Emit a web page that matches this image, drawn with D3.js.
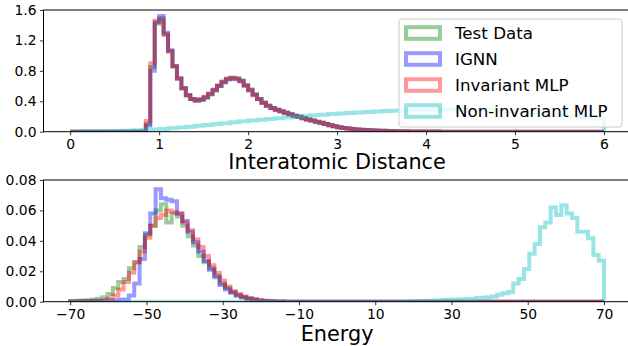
<!DOCTYPE html>
<html>
<head>
<meta charset="utf-8">
<script src="https://cdn.jsdelivr.net/npm/d3@7"></script>
<style>
  body { margin: 0; background: #fff; }
  svg text { font-family: "DejaVu Sans", sans-serif; fill: #000; }
</style>
</head>
<body>
<div id="app"></div>
<script>
// series names + colours (matplotlib g, b, r, c drawn at alpha 0.4)
const seriesNames = ['Test Data', 'IGNN', 'Invariant MLP', 'Non-invariant MLP'];
const seriesColors = ['#008000', '#0000ff', '#ff0000', '#00bfbf'];

// --- interatomic distance histograms (density) ---
// bins of 0.05 from 0 to 6; the first three start at 0.80
const distStart = 0.8;
const distWidth = 0.05;
const distTest = [0.0, 0.10, 0.85, 1.42, 1.49, 1.28, 1.06, 0.86, 0.70, 0.57, 0.48, 0.43, 0.41, 0.42,
  0.45, 0.49, 0.54, 0.60, 0.65, 0.69, 0.71, 0.70, 0.67, 0.61, 0.55, 0.49, 0.43, 0.38, 0.34, 0.31,
  0.29, 0.27, 0.25, 0.23, 0.21, 0.195, 0.178, 0.16, 0.147, 0.132, 0.117, 0.10, 0.085, 0.072, 0.06,
  0.05, 0.042, 0.035, 0.03, 0.025, 0.021, 0.018, 0.015, 0.013, 0.011, 0.009, 0.008, 0.007, 0.006,
  0.005, 0.004, 0.003, 0.003, 0.002, 0.002, 0.001, 0.001];
const distIGNN = [0.0, 0.08, 0.80, 1.44, 1.52, 1.30, 1.07, 0.86, 0.70, 0.57, 0.48, 0.43, 0.41, 0.42,
  0.45, 0.50, 0.55, 0.60, 0.65, 0.69, 0.70, 0.69, 0.67, 0.61, 0.55, 0.49, 0.43, 0.38, 0.34, 0.31,
  0.29, 0.27, 0.25, 0.23, 0.21, 0.195, 0.178, 0.16, 0.147, 0.132, 0.117, 0.10, 0.085, 0.072, 0.06,
  0.05, 0.042, 0.035, 0.03, 0.025, 0.021, 0.018, 0.015, 0.013, 0.011, 0.009, 0.008, 0.007, 0.006,
  0.005, 0.004, 0.003, 0.003, 0.002, 0.002, 0.001, 0.001];
const distInvMLP = [0.0, 0.14, 0.90, 1.46, 1.47, 1.27, 1.05, 0.86, 0.70, 0.57, 0.48, 0.43, 0.41, 0.43,
  0.46, 0.50, 0.55, 0.61, 0.66, 0.70, 0.71, 0.70, 0.66, 0.60, 0.54, 0.48, 0.43, 0.38, 0.34, 0.31,
  0.29, 0.27, 0.25, 0.23, 0.21, 0.195, 0.178, 0.16, 0.147, 0.132, 0.117, 0.10, 0.085, 0.072, 0.06,
  0.05, 0.042, 0.035, 0.03, 0.025, 0.021, 0.018, 0.015, 0.013, 0.011, 0.009, 0.008, 0.007, 0.006,
  0.005, 0.004, 0.003, 0.003, 0.002, 0.002, 0.001, 0.001];
// non-invariant MLP: bins of 0.1 from 0
const distNonInvStart = 0;
const distNonInvWidth = 0.1;
const distNonInv = [0.0, 0.001, 0.002, 0.004, 0.006, 0.009, 0.013, 0.018, 0.024, 0.03, 0.037, 0.045,
  0.055, 0.066, 0.077, 0.088, 0.1, 0.112, 0.124, 0.136, 0.148, 0.158, 0.168, 0.178, 0.188, 0.198,
  0.207, 0.216, 0.224, 0.232, 0.24, 0.247, 0.254, 0.26, 0.266, 0.271, 0.276, 0.28, 0.283, 0.286,
  0.288, 0.29, 0.291, 0.291, 0.29, 0.288, 0.285, 0.281, 0.276, 0.27, 0.263, 0.255, 0.246, 0.236,
  0.225, 0.214, 0.203, 0.192, 0.182, 0.175];
const distRange = [0, 6];
const distTicks = [0, 1, 2, 3, 4, 5, 6];
const distYTicks = [0, 0.4, 0.8, 1.2, 1.6];

// --- energy histograms (density), bins of 1.4 from -70 to 70 ---
const energyWidth = 1.4;
const energyStart = -70;
const energyTest = [0.0005, 0.0006, 0.0008, 0.001, 0.0013, 0.002, 0.003, 0.005, 0.009, 0.013, 0.015,
  0.022, 0.026, 0.036, 0.044, 0.05, 0.06, 0.064, 0.052, 0.058, 0.056, 0.05, 0.043, 0.037, 0.03,
  0.026, 0.022, 0.017, 0.012, 0.009, 0.006, 0.004, 0.003, 0.002, 0.0012, 0.0008, 0.0005, 0.0003,
  0.0002, 0.0001];
const energyIGNN = [0.0002, 0.0002, 0.0003, 0.0003, 0.0004, 0.0005, 0.0006, 0.0008, 0.001, 0.0012,
  0.0015, 0.004, 0.012, 0.028, 0.045, 0.058, 0.074, 0.068, 0.067, 0.066, 0.058, 0.053, 0.046, 0.039,
  0.033, 0.027, 0.021, 0.016, 0.011, 0.008, 0.006, 0.004, 0.003, 0.002, 0.0013, 0.0008, 0.0005,
  0.0003, 0.0002, 0.0001];
const energyInvMLP = [0.0002, 0.0003, 0.0004, 0.0005, 0.0006, 0.0008, 0.001, 0.002, 0.004, 0.008,
  0.013, 0.019, 0.026, 0.033, 0.042, 0.05, 0.055, 0.057, 0.06, 0.059, 0.058, 0.052, 0.047, 0.041,
  0.036, 0.03, 0.024, 0.019, 0.014, 0.01, 0.007, 0.005, 0.0035, 0.0025, 0.0017, 0.001, 0.0007,
  0.0004, 0.0002, 0.0001];
const energyNonInvStart = 19.6;
const energyNonInv = [0.0003, 0.0004, 0.0005, 0.0006, 0.0008, 0.001, 0.0012, 0.0014, 0.0015, 0.0016,
  0.0018, 0.002, 0.0024, 0.0026, 0.003, 0.0035, 0.0046, 0.0055, 0.0064, 0.012, 0.015, 0.0215,
  0.0316, 0.038, 0.049, 0.052, 0.062, 0.057, 0.0634, 0.058, 0.055, 0.046, 0.046, 0.0417, 0.0307,
  0.027];
const energyRange = [-70, 70];
const energyTicks = [-70, -50, -30, -10, 10, 30, 50, 70];
const energyYTicks = [0, 0.02, 0.04, 0.06, 0.08];

// turn a run of bin values into a full step outline over [lo, hi]
function stepPoints(start, width, vals, lo, hi) {
  let pts = [[lo, 0], [start, 0]];
  vals.forEach((v, i) => {
    pts.push([start + i * width, v]);
    pts.push([start + (i + 1) * width, v]);
  });
  let end = start + vals.length * width;
  pts.push([end, 0]);
  if (end < hi - 1e-9) pts.push([hi, 0]);
  return pts;
}

const W = 628, H = 346;
const svg = d3.select('#app').append('svg')
  .attr('width', W).attr('height', H)
  .style('background', '#fff');

function panel(opts) {
  const x = d3.scaleLinear().domain(opts.xDomain).range([43.5, 630.7]);
  const y = d3.scaleLinear().domain(opts.yDomain).range([opts.bottom, opts.top]);

  const g = svg.append('g');

  const clipId = 'clip' + opts.top;
  svg.append('clipPath').attr('id', clipId)
    .append('rect')
    .attr('x', 43.5).attr('y', opts.top)
    .attr('width', 630.7 - 43.5).attr('height', opts.bottom - opts.top);

  const ln = d3.line()
    .x(d => x(d[0]))
    .y(d => y(d[1]));

  const plot = g.append('g').attr('clip-path', 'url(#' + clipId + ')');
  opts.series.forEach((s, i) => {
    plot.append('path')
      .attr('d', ln(s))
      .attr('fill', 'none')
      .attr('stroke', seriesColors[i])
      .attr('stroke-opacity', 0.4)
      .attr('stroke-width', 4)
      .attr('stroke-linejoin', 'miter');
  });

  const xAxis = d3.axisBottom(x)
    .tickValues(opts.xTicks)
    .tickSize(3.5).tickPadding(3.5)
    .tickFormat(opts.xFormat);
  const xg = g.append('g')
    .attr('transform', 'translate(0,' + opts.bottom + ')')
    .call(xAxis);

  const yAxis = d3.axisLeft(y)
    .tickValues(opts.yTicks)
    .tickSize(3.5).tickPadding(3.5)
    .tickFormat(opts.yFormat);
  const yg = g.append('g')
    .attr('transform', 'translate(43.5,0)')
    .call(yAxis);

  [xg, yg].forEach(a => {
    a.select('.domain').remove();
    a.selectAll('.tick line').attr('stroke', '#000').attr('stroke-width', 0.8);
    a.selectAll('.tick text')
      .style('font-family', '"DejaVu Sans", sans-serif')
      .style('font-size', '13.9px')
      .attr('fill', '#000');
  });

  // spines
  g.append('rect')
    .attr('x', 43.5).attr('y', opts.top)
    .attr('width', 630.7 - 43.5).attr('height', opts.bottom - opts.top)
    .attr('fill', 'none').attr('stroke', '#000').attr('stroke-width', 1);

  g.append('text')
    .attr('x', (43.5 + 630.7) / 2)
    .attr('y', opts.labelY)
    .attr('text-anchor', 'middle')
    .style('font-size', '20.8px')
    .text(opts.label);

  return g;
}

panel({
  top: 10, bottom: 131.7,
  xDomain: [distRange[0] - 0.3, distRange[1] + 0.3],
  yDomain: [0, 1.6],
  xTicks: distTicks, yTicks: distYTicks,
  xFormat: d3.format('d'), yFormat: d3.format('.1f'),
  label: 'Interatomic Distance', labelY: 169,
  series: [
    stepPoints(distStart, distWidth, distTest, distRange[0], distRange[1]),
    stepPoints(distStart, distWidth, distIGNN, distRange[0], distRange[1]),
    stepPoints(distStart, distWidth, distInvMLP, distRange[0], distRange[1]),
    stepPoints(distNonInvStart, distNonInvWidth, distNonInv, distRange[0], distRange[1])
  ]
});

panel({
  top: 180, bottom: 301.7,
  xDomain: [energyRange[0] - 7, energyRange[1] + 7],
  yDomain: [0, 0.08],
  xTicks: energyTicks, yTicks: energyYTicks,
  xFormat: d3.format('d'), yFormat: d3.format('.2f'),
  label: 'Energy', labelY: 341,
  series: [
    stepPoints(energyStart, energyWidth, energyTest, energyRange[0], energyRange[1]),
    stepPoints(energyStart, energyWidth, energyIGNN, energyRange[0], energyRange[1]),
    stepPoints(energyStart, energyWidth, energyInvMLP, energyRange[0], energyRange[1]),
    stepPoints(energyNonInvStart, energyWidth, energyNonInv, energyRange[0], energyRange[1])
  ]
});

// legend in the top panel
const leg = svg.append('g').attr('transform', 'translate(399,19)');
leg.append('rect')
  .attr('width', 223).attr('height', 108)
  .attr('rx', 3)
  .attr('fill', '#fff').attr('fill-opacity', 0.8)
  .attr('stroke', '#cccccc').attr('stroke-width', 1);
seriesNames.forEach((name, i) => {
  const cy = 14 + i * 26;
  leg.append('rect')
    .attr('x', 7).attr('y', cy - 5.8)
    .attr('width', 34).attr('height', 11.6)
    .attr('fill', 'none')
    .attr('stroke', seriesColors[i])
    .attr('stroke-opacity', 0.4)
    .attr('stroke-width', 4);
  leg.append('text')
    .attr('x', 56).attr('y', cy + 6)
    .style('font-size', '16.7px')
    .text(name);
});
</script>
</body>
</html>
